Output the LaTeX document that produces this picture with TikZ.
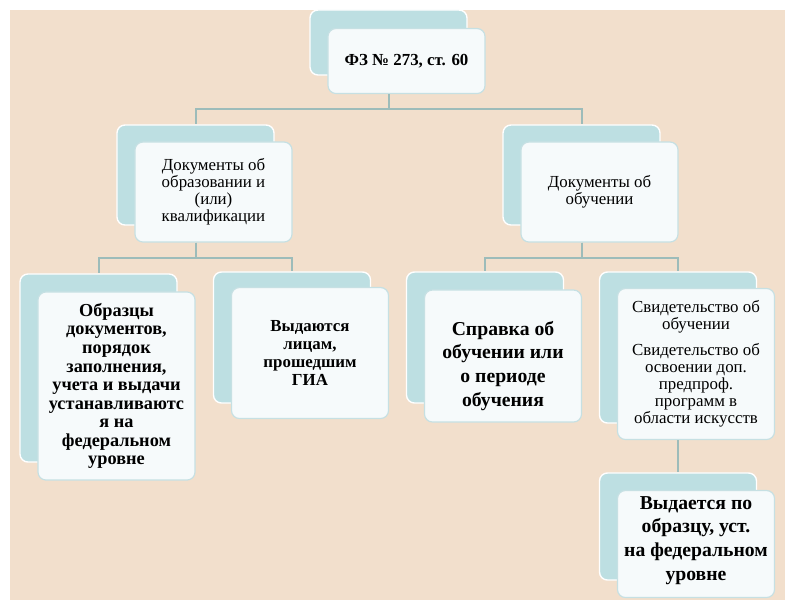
\documentclass[tikz,border=0pt]{standalone}
\usepackage{fontspec}
\setmainfont{Liberation Serif}

\definecolor{peach}{HTML}{F2DFCC}
\definecolor{backteal}{HTML}{BDDFE2}
\definecolor{frontfill}{HTML}{F6FAFB}
\definecolor{edgeteal}{HTML}{C6E0E3}
\definecolor{linkgrey}{HTML}{9DBCBA}

\begin{document}
\begin{tikzpicture}[x=0.025cm, y=-0.025cm]
        \tikzstyle{back} = [rectangle, rounded corners=0.2cm, fill=backteal, draw=white, line width=0.035cm, minimum width=3.925cm]
        \tikzstyle{front} = [rectangle, rounded corners=0.2cm, fill=frontfill, draw=edgeteal, line width=0.03cm, minimum width=3.925cm, align=center, inner sep=1pt]
        \tikzstyle{link} = [draw=linkgrey, line width=0.05cm]
        \tikzstyle{regtext} = [font=\fontsize{12}{12.2}\selectfont]
        \tikzstyle{boldtext} = [font=\bfseries\fontsize{12}{12.8}\selectfont]
        \tikzstyle{bigtext} = [font=\bfseries\fontsize{14}{16.9}\selectfont]

        % page
        \fill[white] (0,0) rectangle (800,600);
        \fill[peach] (10,10) rectangle (785,600);

        % boxes: back card and front card with the text
        \node[back, minimum height=1.625cm] (fz) at (388.5,42.5) {};
        \node[front, minimum height=1.625cm, font=\bfseries\fontsize{12}{13}\selectfont] (fz-t) at (406.5,61) {ФЗ № 273, ст. 60};

        \node[back, minimum height=2.5cm] (doc) at (195.5,175) {};
        \node[front, regtext, minimum height=2.5cm] (doc-t) at (213.5,192) {Документы об\\образовании  и\\(или)\\квалификации};

        \node[back, minimum height=2.5cm] (obu) at (581.5,175) {};
        \node[front, regtext, minimum height=2.5cm] (obu-t) at (599.5,192) {Документы об\\обучении};

        \node[back, minimum height=4.7cm] (obr) at (98.5,368) {};
        \node[front, minimum height=4.7cm, font=\bfseries\fontsize{13}{13.2}\selectfont] (obr-t) at (116.5,386) {Образцы\\документов,\\порядок\\заполнения,\\учета и выдачи\\устанавливаютс\\я на\\федеральном\\уровне};

        \node[back, minimum height=3.275cm] (vyd) at (292,337.5) {};
        \node[front, boldtext, minimum height=3.275cm] (vyd-t) at (310,353) {Выдаются\\лицам,\\прошедшим\\ГИА};

        \node[back, minimum height=3.275cm] (spr) at (485,337.5) {};
        \node[front, bigtext, minimum height=3.3cm] (spr-t) at (503,356) {\rule{0pt}{24pt}Справка об\\обучении или\\о периоде\\обучения};

        \node[back, minimum height=3.775cm] (svid) at (678,347.5) {};
        \node[front, minimum height=3.775cm, font=\fontsize{12}{12.2}\selectfont] (svid-t) at (696,364) {Свидетельство об\\обучении\\[6pt]Свидетельство об\\освоении доп.\\предпроф.\\программ в\\области искусств};

        \node[back, minimum height=2.675cm] (obraz) at (678,526.5) {};
        \node[front, bigtext, minimum height=2.675cm] (obraz-t) at (696,544) {Выдается по\\образцу, уст.\\на федеральном\\уровне\rule[-8pt]{0pt}{0pt}};

        \foreach \p/\c in {fz/doc, fz/obu, doc/obr, doc/vyd, obu/spr, obu/svid, svid/obraz}
            \draw[link] (\p-t.south -| \p.center) -- ++(0,15) -| (\c.north);
\end{tikzpicture}
\end{document}
